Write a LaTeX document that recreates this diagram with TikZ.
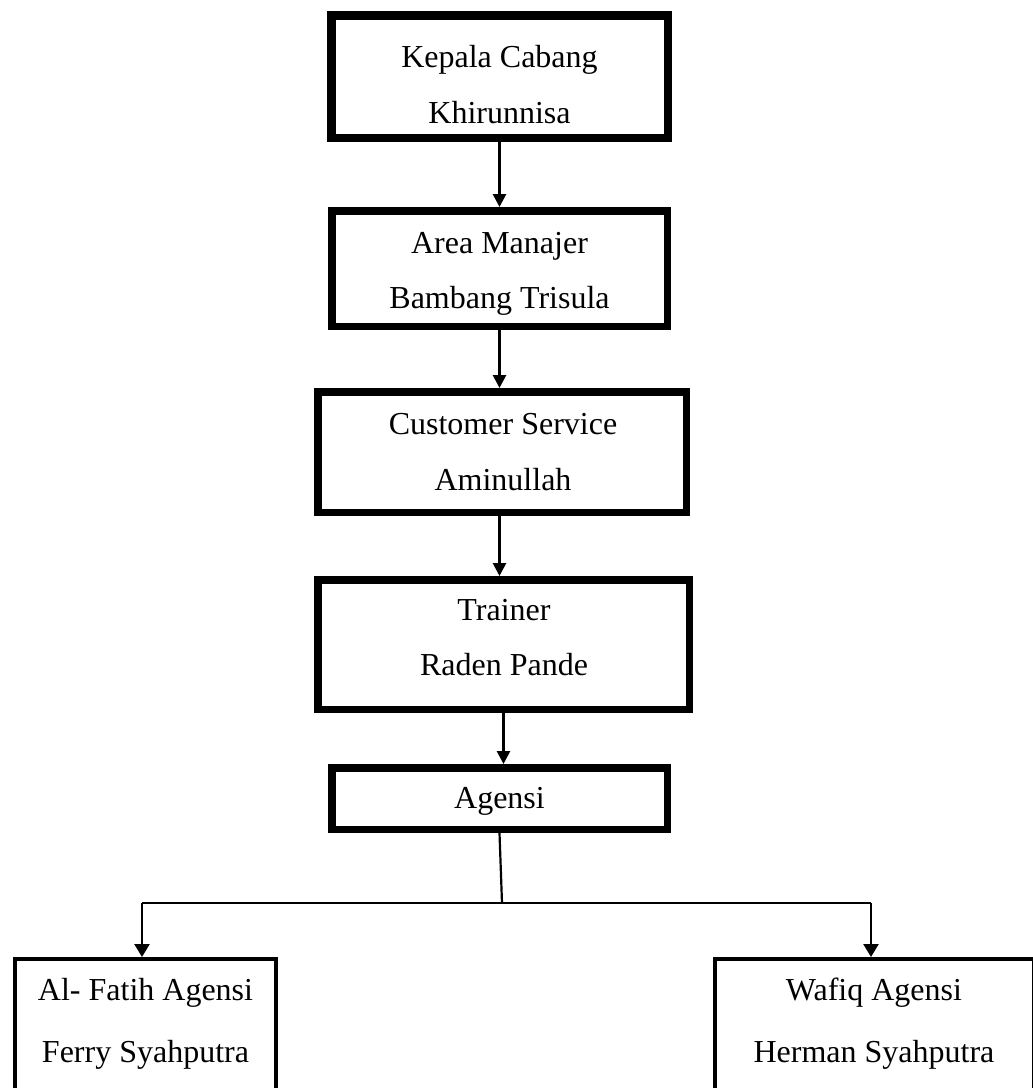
\documentclass[tikz,border=0pt]{standalone}
\usepackage{fontspec}
\setmainfont{Liberation Serif}
\usetikzlibrary{arrows.meta}
\tikzset{
  box/.style={draw=black, rectangle, inner sep=0pt, fill=white},
  txt/.style={font=\fontsize{16}{19}\selectfont, inner sep=0pt, anchor=base},
  arr/.style={line width=1.35pt, -{Triangle[width=6.5pt,length=6.5pt]}},
  arrb/.style={line width=1.25pt, -{Triangle[width=7.5pt,length=6.5pt]}},
  thin/.style={line width=1.1pt}
}
\begin{document}
\begin{tikzpicture}[x=0.5pt,y=-0.5pt]
\useasboundingbox (0,0) rectangle (1033,1088);
\clip (0,0) rectangle (1033,1088);
\fill[white] (0,0) rectangle (1033,1088);
% boxes
\node[box, line width=4.25pt, minimum width=168.25pt, minimum height=61.25pt] (n1) at (499.5,76.5) {};
\node[box, line width=3.75pt, minimum width=167.75pt, minimum height=57.75pt] (n2) at (499.5,268.5) {};
\node[box, line width=3.75pt, minimum width=184.25pt, minimum height=60.25pt] (n3) at (502,452) {};
\node[box, line width=3.75pt, minimum width=185.75pt, minimum height=64.75pt] (n4) at (503.5,644.5) {};
\node[box, line width=3.75pt, minimum width=167.75pt, minimum height=30.75pt] (n5) at (499.5,798.5) {};
\node[box, line width=2pt, minimum width=130.5pt, minimum height=74.5pt] (nl) at (145.5,1033.5) {};
\node[box, line width=2pt, minimum width=159.5pt, minimum height=74.5pt] (nr) at (874.5,1033.5) {};
% texts
\node[txt] (t1a) at (499.5,67) {Kepala Cabang};
\node[txt] (t1b) at (499.5,123) {Khirunnisa};
\node[txt] (t2a) at (499.5,253) {Area Manajer};
\node[txt] (t2b) at (499.5,308) {Bambang Trisula};
\node[txt] (t3a) at (503,434) {Customer Service};
\node[txt] (t3b) at (503,490) {Aminullah};
\node[txt] (t4a) at (504,620) {Trainer};
\node[txt] (t4b) at (504,675) {Raden Pande};
\node[txt] (t5a) at (499.5,808) {Agensi};
\node[txt] (tla) at (145.5,1000) {Al- Fatih Agensi};
\node[txt] (tlb) at (145.5,1062) {Ferry Syahputra};
\node[txt] (tra) at (874,1000) {Wafiq Agensi};
\node[txt] (trb) at (874,1062) {Herman Syahputra};
% arrows
\draw[arr] (n1.south) -- (n2.north);
\draw[arr] (n2.south) -- (n2.south |- n3.north);
\draw[arr] (n3.south -| n2.south) -- (n2.south |- n4.north);
\draw[arr] (n4.south) -- (n4.south |- n5.north);
% branch
\coordinate (J) at (502,903);
\coordinate (L) at (142,903);
\coordinate (R) at (871,903);
\draw[thin] (n5.south) -- (J);
\draw[thin] (L) -- (R);
\draw[arrb] (L) -- (L |- nl.north);
\draw[arrb] (R) -- (R |- nr.north);
\end{tikzpicture}
\end{document}
